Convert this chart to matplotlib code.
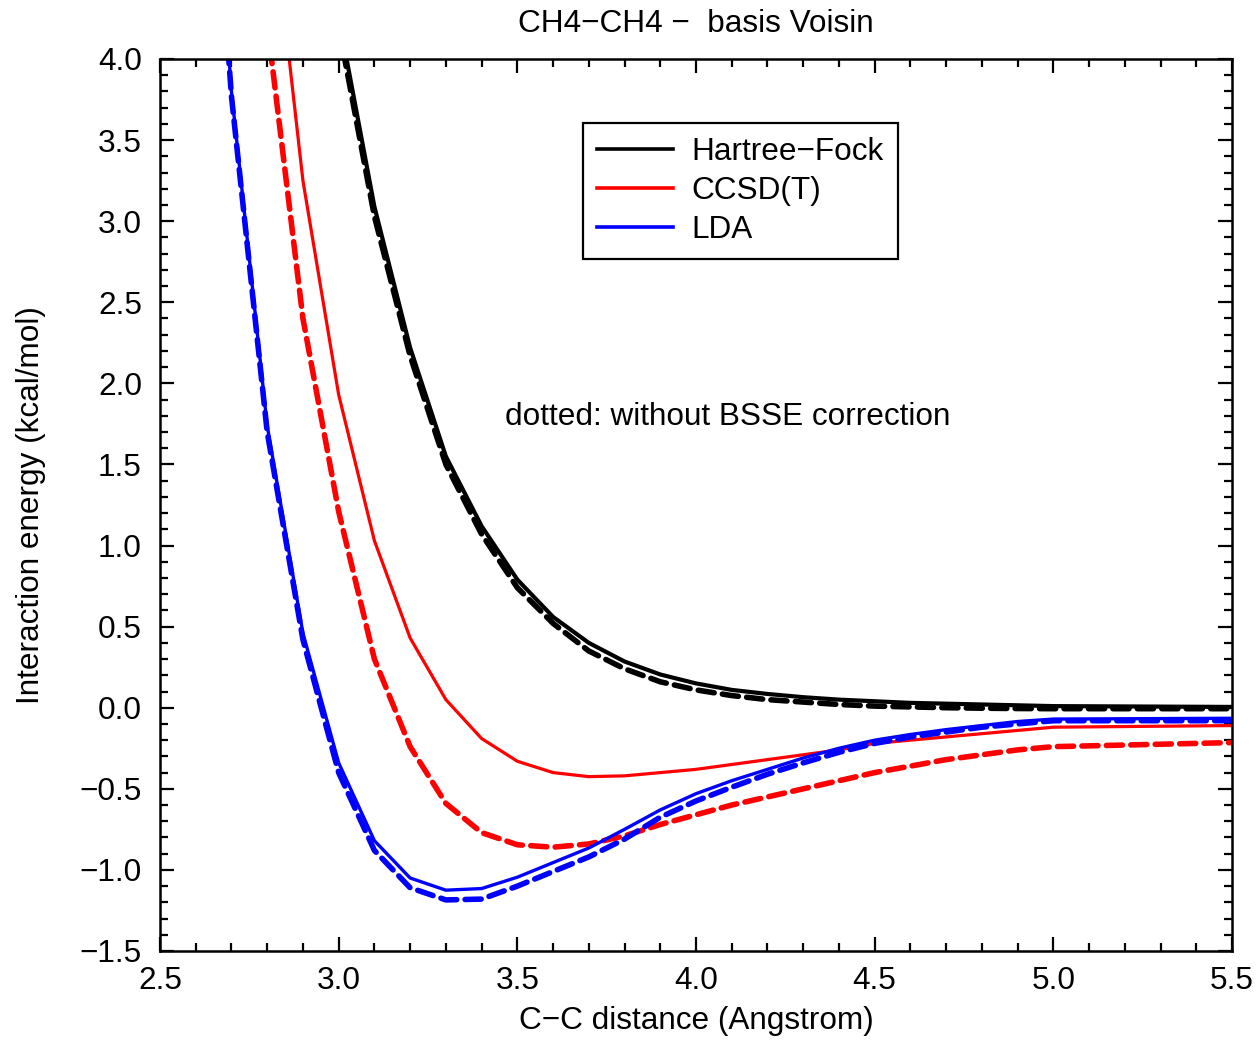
import matplotlib
matplotlib.use("Agg")
import matplotlib.pyplot as plt
from matplotlib.ticker import MultipleLocator

# ---- data ----
x_hf = [3.0, 3.1, 3.2, 3.3, 3.4, 3.5, 3.6, 3.7, 3.8, 3.9, 4.0, 4.1, 4.2, 4.3,
        4.4, 4.5, 4.6, 4.7, 4.8, 4.9, 5.0, 5.5]
hf_bsse = [4.26, 3.09, 2.22, 1.55, 1.12, 0.79, 0.56, 0.40, 0.285, 0.205, 0.15,
           0.11, 0.085, 0.065, 0.05, 0.04, 0.03, 0.025, 0.02, 0.015, 0.01, 0.005]
hf_raw = [4.20, 3.03, 2.17, 1.50, 1.07, 0.74, 0.52, 0.35, 0.24, 0.16, 0.11,
          0.075, 0.05, 0.035, 0.02, 0.01, 0.005, 0.0, -0.003, -0.005, -0.006, -0.006]

x_cc = [2.8, 2.9, 3.0, 3.1, 3.2, 3.3, 3.4, 3.5, 3.6, 3.7, 3.8, 3.9, 4.0, 4.1,
        4.2, 4.3, 4.4, 4.5, 4.6, 4.7, 4.8, 4.9, 5.0, 5.5]
cc_bsse = [5.2, 3.25, 1.93, 1.03, 0.43, 0.05, -0.19, -0.33, -0.40, -0.425, -0.42,
           -0.40, -0.38, -0.35, -0.32, -0.29, -0.26, -0.22, -0.20, -0.18, -0.16,
           -0.14, -0.12, -0.11]
cc_raw = [4.22, 2.40, 1.21, 0.30, -0.24, -0.59, -0.77, -0.845, -0.86, -0.84, -0.79,
          -0.72, -0.66, -0.60, -0.55, -0.50, -0.45, -0.40, -0.36, -0.32, -0.29,
          -0.26, -0.24, -0.215]

x_lda = [2.6, 2.7, 2.8, 2.9, 3.0, 3.1, 3.2, 3.3, 3.4, 3.5, 3.6, 3.7, 3.8, 3.9, 4.0,
         4.1, 4.2, 4.3, 4.4, 4.5, 4.6, 4.7, 4.8, 4.9, 5.0, 5.5]
lda_bsse = [6.8, 3.80, 1.74, 0.46, -0.34, -0.82, -1.05, -1.125, -1.115, -1.045, -0.955,
            -0.865, -0.75, -0.63, -0.53, -0.45, -0.38, -0.31, -0.25, -0.20, -0.165,
            -0.135, -0.11, -0.085, -0.07, -0.065]
lda_raw = [6.8, 3.77, 1.70, 0.42, -0.40, -0.88, -1.11, -1.185, -1.18, -1.10, -1.01,
           -0.92, -0.81, -0.675, -0.575, -0.49, -0.41, -0.34, -0.275, -0.22, -0.18,
           -0.15, -0.12, -0.10, -0.08, -0.08]

labels = ["Hartree\u2212Fock", "CCSD(T)", "LDA"]
colors = ["black", "#ff0000", "#0000ff"]

plt.rcParams['font.family'] = ['Liberation Sans', 'DejaVu Sans']
FS = 22.7

fig = plt.figure(figsize=(12.59, 10.40), dpi=100)
ax = fig.add_axes([160 / 1259, 1 - 951 / 1040, 1072 / 1259, 892 / 1040])

series = [(x_hf, hf_bsse, hf_raw, 3.0), (x_cc, cc_bsse, cc_raw, 2.3), (x_lda, lda_bsse, lda_raw, 2.4)]
handles = []
for (xs, ys, yr, lw), lab, c in zip(series, labels, colors):
    ax.plot(xs, yr, color=c, lw=4.0, ls=(0, (2.9, 1.5)), solid_capstyle='butt',
            dash_capstyle='round')
    h, = ax.plot(xs, ys, color=c, lw=lw, label=lab)
    handles.append(h)

ax.set_xlim(2.5, 5.5)
ax.set_ylim(-1.5, 4.0)
ax.xaxis.set_major_locator(MultipleLocator(0.5))
ax.xaxis.set_minor_locator(MultipleLocator(0.1))
ax.yaxis.set_major_locator(MultipleLocator(0.5))
ax.yaxis.set_minor_locator(MultipleLocator(0.1))
ax.xaxis.set_major_formatter(plt.FuncFormatter(lambda v, p: f"{v:.1f}".replace("-", "\u2212")))
ax.yaxis.set_major_formatter(plt.FuncFormatter(lambda v, p: f"{v:.1f}".replace("-", "\u2212")))
ax.tick_params(which='both', direction='in', top=True, right=True, width=1.6,
               labelsize=FS, color='black')
ax.tick_params(axis='x', which='major', length=10, pad=10.5)
ax.tick_params(axis='y', which='major', length=10, pad=13)
ax.tick_params(which='minor', length=6)
for s in ax.spines.values():
    s.set_linewidth(1.8)

ax.set_xlabel("C\u2212C distance (Angstrom)", fontsize=FS, labelpad=7.5)
ax.set_ylabel("Interaction energy (kcal/mol)", fontsize=FS, labelpad=24)
ax.set_title("CH4\u2212CH4 \u2212  basis Voisin", fontsize=FS, pad=19.5)

leg_handles = [plt.Line2D([], [], color=c, lw=2.6) for c in colors]
leg = ax.legend(leg_handles, labels, loc='upper left',
                bbox_to_anchor=((583 - 160) / 1072, (951 - 123) / 892),
                borderaxespad=0, fontsize=FS, frameon=True, fancybox=False,
                handlelength=2.4, handletextpad=0.6, labelspacing=0.28,
                borderpad=0.45)
leg.get_frame().set_edgecolor('black')
leg.get_frame().set_linewidth(1.6)
leg.get_frame().set_alpha(1)

fig.text(505 / 1259, 1 - 417 / 1040, "dotted: without BSSE correction", fontsize=FS,
         va='center', ha='left')

fig.savefig("out.png", dpi=100)
